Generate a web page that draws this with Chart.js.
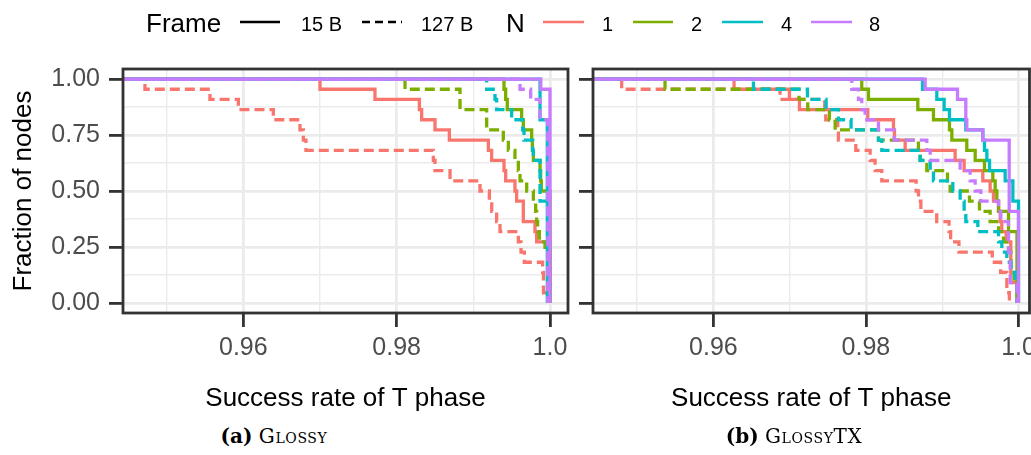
<!DOCTYPE html>
<html><head><meta charset="utf-8">
<script src="https://cdn.jsdelivr.net/npm/chart.js@4/dist/chart.umd.min.js"></script>
<style>
html,body{margin:0;padding:0;background:#fff;overflow:hidden;width:1031px;height:455px;}
#wrap{position:relative;width:1031px;height:455px;overflow:hidden;background:#fff;}
canvas{position:absolute;top:0;}
.t{position:absolute;white-space:nowrap;font-family:"Liberation Sans",Arial,sans-serif;color:#000;}
.big{font-size:26px;line-height:26px;top:10px;}
.sm{font-size:20px;line-height:20px;top:13.6px;}
.cap{position:absolute;width:300px;text-align:center;white-space:nowrap;font-family:"DejaVu Serif",serif;font-size:20px;line-height:20px;top:426px;color:#000;}
.cap b{font-weight:bold;}
.sc{font-variant:small-caps;letter-spacing:0.6px;}
</style></head><body><div id="wrap">
<canvas id="ca" width="580" height="420" style="left:0px"></canvas>
<canvas id="cb" width="580" height="420" style="left:470px"></canvas>
<svg width="1031" height="50" style="position:absolute;left:0;top:0">
  <line x1="240" y1="22" x2="280" y2="22" stroke="#000" stroke-width="2.7"/>
  <line x1="362" y1="22" x2="402" y2="22" stroke="#000" stroke-width="2.7" stroke-dasharray="8 5"/>
  <line x1="543" y1="22" x2="584" y2="22" stroke="#F8766D" stroke-width="2.7"/>
  <line x1="633" y1="22" x2="673" y2="22" stroke="#7CAE00" stroke-width="2.7"/>
  <line x1="722" y1="22" x2="763" y2="22" stroke="#00BFC4" stroke-width="2.7"/>
  <line x1="811" y1="22" x2="852" y2="22" stroke="#C77CFF" stroke-width="2.7"/>
</svg>
<span class="t big" style="left:146px">Frame</span>
<span class="t sm" style="left:301px">15 B</span>
<span class="t sm" style="left:421px">127 B</span>
<span class="t big" style="left:506px">N</span>
<span class="t sm" style="left:602px">1</span>
<span class="t sm" style="left:691px">2</span>
<span class="t sm" style="left:781px">4</span>
<span class="t sm" style="left:869px">8</span>
<div class="cap" style="left:124px"><b>(a)</b> <span class="sc">Glossy</span></div>
<div class="cap" style="left:644px"><b>(b)</b> <span class="sc">GlossyTX</span></div>
</div>
<script>
// ---- data (x = success rate where the step drops, y = number of nodes remaining, of 22) ----
const NODES = 22;
const N_VALUES = ['1', '2', '4', '8'];
const FRAMES = ['15 B', '127 B'];
const COLORS = ['#F8766D', '#7CAE00', '#00BFC4', '#C77CFF'];

const X_TICKS = [0.95, 0.96, 0.97, 0.98, 0.99, 1.0];
const X_TICK_LABELS = ['', '0.96', '', '0.98', '', '1.0'];
const Y_TICKS = [0, 0.125, 0.25, 0.375, 0.5, 0.625, 0.75, 0.875, 1.0];
const Y_TICK_LABELS = ['0.00', '', '0.25', '', '0.50', '', '0.75', '', '1.00'];

// Panel (a) Glossy
const A_N1_15_X  = [0.94, 0.9700, 0.97717, 0.98296, 0.98326, 0.9850, 0.98687, 0.99196, 0.99239, 0.9940, 0.99422, 0.99543, 0.99565, 0.99652, 0.99804, 0.99826, 1.0];
const A_N1_15_Y  = [22, 21, 20, 19, 18, 17, 16, 15, 14, 13, 12, 11, 10, 8, 7, 6, 0];
const A_N1_127_X = [0.94, 0.94717, 0.95565, 0.95935, 0.96391, 0.96739, 0.96783, 0.96817, 0.98478, 0.98500, 0.98696, 0.99087, 0.99209, 0.99240, 0.99304, 0.99348, 0.99587, 0.99622, 0.99665, 0.99904, 0.99915, 0.9999];
const A_N1_127_Y = [22, 21, 20, 19, 18, 17, 16, 15, 14, 13, 12, 11, 10, 9, 8, 7, 6, 5, 4, 3, 1, 0];
const A_N2_15_X  = [0.94, 0.9940, 0.99422, 0.99443, 0.99630, 0.99652, 0.99761, 0.9977, 0.99783, 0.9987, 0.99878, 0.99887, 1.0];
const A_N2_15_Y  = [22, 21, 20, 19, 18, 17, 16, 15, 14, 13, 12, 11, 0];
const A_N2_127_X = [0.94, 0.98109, 0.98826, 0.99174, 0.99391, 0.99457, 0.99543, 0.99587, 0.99609, 0.99696, 0.99783, 0.99813, 0.99826, 0.99839, 0.99861, 0.99935, 1.0];
const A_N2_127_Y = [22, 21, 19, 17, 16, 15, 14, 13, 12, 11, 10, 9, 8, 7, 6, 5, 0];
const A_N4_15_X  = [0.94, 0.99870, 0.99965];
const A_N4_15_Y  = [22, 18, 0];
const A_N4_127_X = [0.94, 0.99174, 0.99283, 0.99304, 0.99500, 0.99643, 0.99661, 0.99774, 0.99783, 0.99870, 0.9998];
const A_N4_127_Y = [22, 21, 20, 19, 18, 17, 16, 15, 14, 10, 0];
const A_N8_15_X  = [0.94, 0.9988, 1.0];
const A_N8_15_Y  = [22, 21, 0];
const A_N8_127_X = [0.94, 0.99609, 0.99748, 0.99870, 0.9997];
const A_N8_127_Y = [22, 21, 20, 18, 0];

// Panel (b) GlossyTX
const B_N1_15_X  = [0.94, 0.96271, 0.96997, 0.97128, 0.98024, 0.98361, 0.98374, 0.98514, 0.99169, 0.99287, 0.99532, 0.99628, 0.99672, 0.99738, 0.9976, 0.99781, 0.99838, 0.99899, 0.9998];
const B_N1_15_Y  = [22, 21, 20, 19, 18, 17, 16, 15, 14, 13, 12, 11, 10, 9, 8, 7, 6, 2, 0];
const B_N1_127_X = [0.94, 0.94798, 0.96874, 0.97460, 0.97473, 0.97630, 0.97639, 0.97867, 0.98055, 0.98120, 0.98208, 0.98658, 0.98689, 0.98720, 0.98928, 0.99089, 0.99110, 0.99219, 0.99656, 0.99766, 0.99847, 0.99880];
const B_N1_127_Y = [22, 21, 20, 19, 18, 17, 16, 15, 14, 13, 12, 11, 10, 9, 8, 7, 6, 5, 4, 3, 1, 0];
const B_N2_15_X  = [0.94, 0.97945, 0.98033, 0.9868, 0.98885, 0.99095, 0.99126, 0.99322, 0.99432, 0.99554, 0.99663, 0.99694, 0.99716, 0.99738, 0.99869, 0.9998];
const B_N2_15_Y  = [22, 21, 20, 19, 18, 17, 16, 15, 14, 13, 12, 11, 10, 9, 7, 0];
const B_N2_127_X = [0.94, 0.95366, 0.97123, 0.97237, 0.97521, 0.97596, 0.98164, 0.98688, 0.98710, 0.98798, 0.99069, 0.99104, 0.99357, 0.99488, 0.99628, 0.99738, 0.99803, 0.99869, 0.99900, 0.99943, 0.9998];
const B_N2_127_Y = [22, 21, 20, 19, 18, 17, 16, 15, 14, 13, 12, 11, 10, 9, 8, 7, 6, 5, 3, 2, 0];
const B_N4_15_X  = [0.94, 0.98741, 0.98929, 0.99025, 0.99095, 0.99309, 0.99532, 0.99554, 0.99585, 0.99620, 0.99825, 0.99926, 1.0];
const B_N4_15_Y  = [22, 21, 20, 19, 18, 17, 16, 15, 14, 13, 12, 10, 0];
const B_N4_127_X = [0.94, 0.96525, 0.97233, 0.97478, 0.97639, 0.97805, 0.98164, 0.98208, 0.98710, 0.98842, 0.98885, 0.99139, 0.99235, 0.99287, 0.99309, 0.99467, 0.99738, 0.99781, 0.99847, 0.99900, 0.99956, 0.9998];
const B_N4_127_Y = [22, 21, 20, 19, 18, 17, 16, 15, 14, 13, 12, 11, 10, 9, 8, 7, 6, 5, 4, 3, 2, 0];
const B_N8_15_X  = [0.94, 0.98776, 0.99200, 0.99309, 0.99322, 0.99532, 0.99878, 1.0];
const B_N8_15_Y  = [22, 21, 20, 18, 17, 16, 9, 0];
const B_N8_127_X = [0.94, 0.97814, 0.97902, 0.97945, 0.97989, 0.98164, 0.98369, 0.98798, 0.98842, 0.99235, 0.99366, 0.99432, 0.99506, 0.99738, 0.99768, 0.99869, 0.99891, 0.9998];
const B_N8_127_Y = [22, 21, 20, 19, 18, 17, 16, 15, 14, 13, 12, 11, 10, 9, 8, 5, 2, 0];

const PANEL_A = [[A_N1_15_X, A_N1_15_Y], [A_N1_127_X, A_N1_127_Y], [A_N2_15_X, A_N2_15_Y], [A_N2_127_X, A_N2_127_Y],
                 [A_N4_15_X, A_N4_15_Y], [A_N4_127_X, A_N4_127_Y], [A_N8_15_X, A_N8_15_Y], [A_N8_127_X, A_N8_127_Y]];
const PANEL_B = [[B_N1_15_X, B_N1_15_Y], [B_N1_127_X, B_N1_127_Y], [B_N2_15_X, B_N2_15_Y], [B_N2_127_X, B_N2_127_Y],
                 [B_N4_15_X, B_N4_15_Y], [B_N4_127_X, B_N4_127_Y], [B_N8_15_X, B_N8_15_Y], [B_N8_127_X, B_N8_127_Y]];

// ---- chart construction ----
const FONT = '"Liberation Sans", Arial, sans-serif';

function makeDatasets(panel) {
  return panel.map(([xs, ys], i) => {
    const n = Math.floor(i / 2), dashed = i % 2 === 1;
    return {
      label: 'N=' + N_VALUES[n] + ' ' + FRAMES[i % 2],
      data: xs.map((x, k) => ({x: x, y: ys[k] / NODES})),
      borderColor: COLORS[n],
      borderWidth: 3.3,
      borderDash: dashed ? [10, 5] : [],
      stepped: 'before',
      pointRadius: 0,
      fill: false,
      order: 100 - i
    };
  });
}

const borderPlugin = {
  id: 'panelBorder',
  afterDraw(chart) {
    const {ctx, chartArea: a} = chart;
    ctx.save();
    ctx.strokeStyle = '#333333';
    ctx.lineWidth = 2.8;
    ctx.strokeRect(a.left, a.top, a.right - a.left, a.bottom - a.top);
    ctx.restore();
  }
};

function makeChart(id, panel, showY, xmin, xmax, padRight) {
  const gridX = {
    color: '#EBEBEB',
    lineWidth: c => (X_TICK_LABELS[c.index] ? 2.8 : 1.4),
    tickColor: c => (X_TICK_LABELS[c.index] ? '#333333' : 'rgba(0,0,0,0)'),
    tickWidth: 2.8,
    tickLength: 14,
    drawTicks: true
  };
  const gridY = {
    color: '#EBEBEB',
    lineWidth: c => (c.index % 2 === 0 ? 2.8 : 1.4),
    tickColor: c => (c.index % 2 === 0 ? '#333333' : 'rgba(0,0,0,0)'),
    tickWidth: 2.8,
    tickLength: 14,
    drawTicks: true
  };
  return new Chart(document.getElementById(id), {
    type: 'line',
    data: {datasets: makeDatasets(panel)},
    options: {
      responsive: false,
      animation: false,
      devicePixelRatio: 1,
      events: [],
      layout: {padding: {top: 69, right: padRight, bottom: 0, left: 0}},
      plugins: {legend: {display: false}, tooltip: {enabled: false}},
      scales: {
        x: {
          type: 'linear', min: xmin, max: xmax,
          afterBuildTicks: s => { s.ticks = X_TICKS.map(v => ({value: v})); },
          afterFit: s => { s.height = 420 - 313; },
          grid: gridX,
          border: {display: false},
          ticks: {callback: (v, i) => X_TICK_LABELS[i], font: {family: FONT, size: 25}, color: '#4D4D4D', padding: 6, maxRotation: 0, autoSkip: false},
          title: {display: true, text: 'Success rate of T phase', font: {family: FONT, size: 26}, color: '#000', padding: {top: 0, bottom: 6}}
        },
        y: {
          type: 'linear', min: -0.045, max: 1.045,
          afterBuildTicks: s => { s.ticks = Y_TICKS.map(v => ({value: v})); },
          afterFit: s => { s.width = 123; },
          grid: gridY,
          border: {display: false},
          ticks: {callback: (v, i) => (showY ? Y_TICK_LABELS[i] : ''), font: {family: FONT, size: 25}, color: '#4D4D4D', padding: 9, autoSkip: false},
          title: {display: showY, text: 'Fraction of nodes', font: {family: FONT, size: 26}, color: '#000', padding: {top: 8, bottom: 0}}
        }
      }
    },
    plugins: [borderPlugin]
  });
}

makeChart('ca', PANEL_A, true, 0.944305, 1.002348, 12);
makeChart('cb', PANEL_B, false, 0.94422, 1.00144, 20.5);
</script>
</body></html>
